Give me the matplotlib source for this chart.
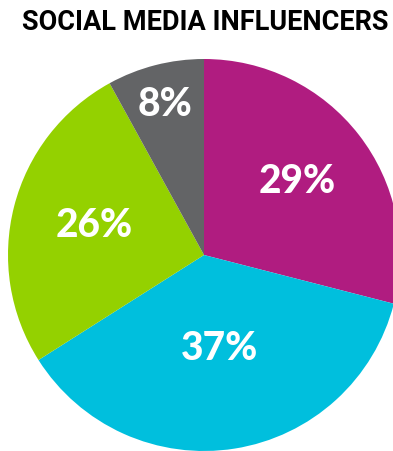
import matplotlib
matplotlib.use('Agg')
import matplotlib.pyplot as plt
import numpy as np

# shares of influencer types, clockwise from 12 o'clock
labels = ['29%', '37%', '26%', '8%']
shares = [29, 37, 26, 8]
colors = ['#B01C80', '#00BFDD', '#94D100', '#636466']
label_r = [0.60, 0.49, 0.58, 0.79]

W, H = 393, 452
fig = plt.figure(figsize=(W / 100, H / 100), dpi=100)
ax = fig.add_axes([0, 0, 1, 1])

cx, cy, R = 204, H - 256, 196
ax.pie(shares, colors=colors, startangle=90, counterclock=False,
       center=(cx, cy), radius=R, frame=True,
       wedgeprops=dict(linewidth=0))
ax.set_xlim(0, W)
ax.set_ylim(0, H)
ax.set_aspect('equal')
ax.axis('off')

# percentage labels at the middle of each wedge
start = 90.0
for lab, v, d in zip(labels, shares, label_r):
    mid = np.deg2rad(start - v / sum(shares) * 360 / 2)
    start -= v / sum(shares) * 360
    ax.text(cx + d * R * np.cos(mid), cy + d * R * np.sin(mid) + 2, lab,
            ha='center', va='center', color='white', fontsize=28,
            fontweight='black', family='Lato')

fig.text(205 / W, 1 - 23 / H, 'SOCIAL MEDIA INFLUENCERS', ha='center',
         va='center', fontsize=19.5, fontweight='bold', family='Roboto')

fig.savefig('out.png', dpi=100)
